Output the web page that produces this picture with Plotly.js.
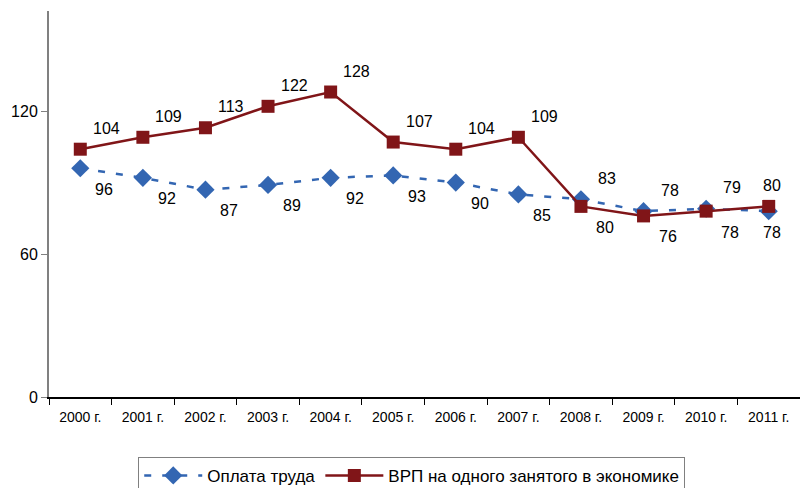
<!DOCTYPE html>
<html><head><meta charset="utf-8">
<script src="https://cdn.plot.ly/plotly-3.0.1.min.js"></script>
<style>body{margin:0;background:#fff}#chart{width:800px;height:488px}</style>
</head><body><div id="chart"></div>
<script>
var years = ["2000 г.","2001 г.","2002 г.","2003 г.","2004 г.","2005 г.","2006 г.","2007 г.","2008 г.","2009 г.","2010 г.","2011 г."];
var wages = [96, 92, 87, 89, 92, 93, 90, 85, 83, 78, 79, 78];
var grp = [104, 109, 113, 122, 128, 107, 104, 109, 80, 76, 78, 80];
var wagesName = "Оплата труда";
var grpName = "ВРП на одного занятого в экономике";
var yTicks = [0, 60, 120];

var FONT = "Arial, 'Liberation Sans', sans-serif";
// label placement (style): offsets in px
var wagesLabelPos = ["br","br","br","br","br","br","br","br","tr","tr","tr","bc"];
var grpLabelPos = ["tr","tr","tr","tr","tr","tr","tr","tr","br","br","br","tc"];
function off(p){
  if(p==="br") return [24,-21];
  if(p==="tr") return [26,21];
  if(p==="bc") return [3,-21];
  if(p==="tc") return [3,21];
  return [0,0];
}
var ann = [];
function addLabels(vals, pos){
  vals.forEach(function(v,i){
    var o = off(pos[i]);
    ann.push({x: years[i], y: v, text: String(v), showarrow: false,
      xshift: o[0], yshift: o[1], font: {family: FONT, size: 16, color: "#000"}});
  });
}
addLabels(wages, wagesLabelPos);
addLabels(grp, grpLabelPos);

var data = [
  {x: years, y: wages, name: wagesName, type: "scatter", mode: "lines+markers",
   line: {color: "#3366b2", width: 2.5, dash: "7px,11px"},
   marker: {symbol: "diamond", size: 14, color: "#3366b2"}},
  {x: years, y: grp, name: grpName, type: "scatter", mode: "lines+markers",
   line: {color: "#801518", width: 2.5},
   marker: {symbol: "square", size: 13, color: "#801518"}}
];
var layout = {
  width: 800, height: 488,
  margin: {l: 49, r: 0, t: 11, b: 91, autoexpand: false},
  paper_bgcolor: "#fff", plot_bgcolor: "#fff",
  font: {family: FONT, color: "#000"},
  showlegend: true,
  legend: {orientation: "h", x: 0.483, xanchor: "center", y: -0.155, yanchor: "top",
    itemwidth: 58, bordercolor: "#808080", borderwidth: 1,
    font: {family: FONT, size: 17}, traceorder: "normal"},
  xaxis: {type: "category", showgrid: false, zeroline: false, showline: true,
    linecolor: "#000", linewidth: 1.5, ticks: "outside", ticklen: 6, tickcolor: "#000",
    tickson: "boundaries", ticklabelstandoff: 7, tickfont: {family: FONT, size: 14}, range: [-0.5, 11.5]},
  yaxis: {range: [0, 162], tickvals: yTicks, showgrid: false, zeroline: false,
    showline: true, linecolor: "#808080", linewidth: 2, ticks: "outside", ticklen: 6,
    tickcolor: "#808080", tickfont: {family: FONT, size: 16}},
  annotations: ann
};
Plotly.newPlot("chart", data, layout, {displayModeBar: false, staticPlot: true});
</script></body></html>
